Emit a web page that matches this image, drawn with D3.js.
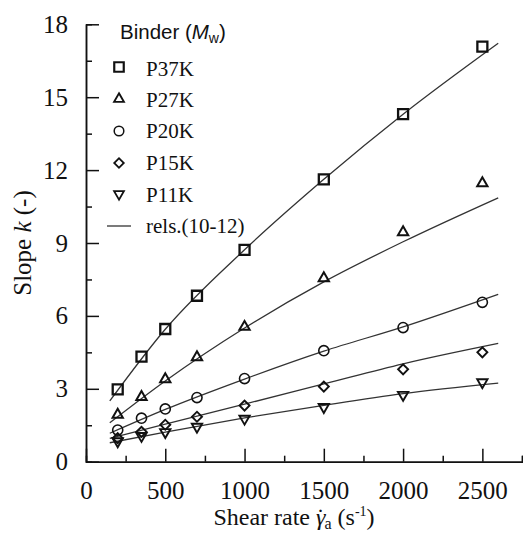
<!DOCTYPE html>
<html>
<head>
<meta charset="utf-8">
<script src="https://cdn.jsdelivr.net/npm/d3@7"></script>
<style>
  body { margin: 0; background: #fff; }
  text { fill: #111; }
</style>
</head>
<body>
<div id="chart"></div>
<script>
// ************ data ************
const shearRates = [200, 350, 500, 700, 1000, 1500, 2000, 2500]

const p37k = [2.98, 4.32, 5.46, 6.83, 8.72, 11.62, 14.3, 17.08]
const p27k = [1.93, 2.66, 3.39, 4.3, 5.55, 7.55, 9.44, 11.46]
const p20k = [1.3, 1.79, 2.17, 2.64, 3.42, 4.57, 5.52, 6.56]
const p15k = [0.97, 1.23, 1.52, 1.85, 2.31, 3.09, 3.8, 4.5]
const p11k = [0.84, 1.06, 1.22, 1.44, 1.77, 2.25, 2.75, 3.27]

// fitted relations, rels.(10-12), sampled from the drawn curves
const fitRates = [150, 500, 1000, 1500, 2000, 2600]
const fit37k = [2.5, 5.45, 8.72, 11.62, 14.3, 17.22]
const fit27k = [1.6, 3.32, 5.5, 7.4, 9.05, 10.86]
const fit20k = [1.17, 2.15, 3.4, 4.55, 5.55, 6.89]
const fit15k = [0.96, 1.55, 2.37, 3.2, 4.03, 4.87]
const fit11k = [0.78, 1.22, 1.8, 2.32, 2.8, 3.23]

const binders = ["P37K", "P27K", "P20K", "P15K", "P11K"]
const xTicks = [0, 500, 1000, 1500, 2000, 2500]
const yTicks = [0, 3, 6, 9, 12, 15, 18]

// ************ layout ************
const W = 523, H = 534
const plotLeft = 86, plotRight = 522, plotTop = 24.3, plotBottom = 461.7
const serif = "'Liberation Serif', 'Times New Roman', serif"

const x = d3.scaleLinear().domain([0, 2750]).range([plotLeft, plotRight])
const y = d3.scaleLinear().domain([0, 18]).range([plotBottom, plotTop])

const svg = d3.select("#chart")
  .append("svg")
  .attr("width", W)
  .attr("height", H)

// marker shapes, one per binder
const markers = {
  P37K: { path: d3.symbol(d3.symbolSquare, 100)(), rot: 0, sw: 2.3 },
  P27K: { path: d3.symbol(d3.symbolTriangle, 46)(), rot: 0, sw: 2 },
  P20K: { path: d3.symbol(d3.symbolCircle, 80)(), rot: 0, sw: 1.6 },
  P15K: { path: d3.symbol(d3.symbolSquare, 50)(), rot: 45, sw: 1.9 },
  P11K: { path: d3.symbol(d3.symbolTriangle, 46)(), rot: 180, sw: 1.9 }
}

const series = [
  { name: "P37K", vals: p37k, fit: fit37k },
  { name: "P27K", vals: p27k, fit: fit27k },
  { name: "P20K", vals: p20k, fit: fit20k },
  { name: "P15K", vals: p15k, fit: fit15k },
  { name: "P11K", vals: p11k, fit: fit11k }
]

// ************ axes ************
const yAxis = d3.axisLeft(y).tickValues(yTicks).tickSizeInner(-13).tickSizeOuter(0).tickPadding(18)
const yMinor = d3.axisLeft(y).tickValues(d3.range(1.5, 18, 3)).tickSize(-6).tickFormat("")
const xAxis = d3.axisBottom(x).tickValues(xTicks).tickFormat(d3.format("d"))
  .tickSizeInner(-13).tickSizeOuter(0).tickPadding(20)
const xMinor = d3.axisBottom(x).tickValues(d3.range(250, 2751, 500)).tickSize(-6).tickFormat("")

function styleAxis(g) {
  g.selectAll("path, line").attr("stroke", "#111").attr("stroke-width", 1.5)
  g.selectAll("text")
    .style("font-family", serif)
    .style("font-size", "25px")
    .attr("fill", "#111")
}

svg.append("g").attr("transform", "translate(" + plotLeft + ",0)").call(yMinor).call(styleAxis)
svg.append("g").attr("transform", "translate(0," + plotBottom + ")").call(xMinor).call(styleAxis)
svg.append("g").attr("transform", "translate(" + plotLeft + ",0)").call(yAxis).call(styleAxis)
svg.append("g").attr("transform", "translate(0," + plotBottom + ")").call(xAxis).call(styleAxis)

// ************ fitted curves ************
const line = d3.line()
  .x(function(d) { return x(d[0]) })
  .y(function(d) { return y(d[1]) })
  .curve(d3.curveMonotoneX)

series.forEach(function(s) {
  svg.append("path")
    .datum(fitRates.map(function(r, i) { return [r, s.fit[i]] }))
    .attr("d", line)
    .attr("fill", "none")
    .attr("stroke", "#333")
    .attr("stroke-width", 1.3)
})

// ************ data markers ************
series.forEach(function(s) {
  const m = markers[s.name]
  svg.selectAll(".pt-" + s.name)
    .data(shearRates.map(function(r, i) { return [r, s.vals[i]] }))
    .enter()
    .append("path")
    .attr("class", "pt-" + s.name)
    .attr("d", m.path)
    .attr("transform", function(d) {
      return "translate(" + x(d[0]) + "," + y(d[1]) + ") rotate(" + m.rot + ")"
    })
    .attr("fill", "none")
    .attr("stroke", "#111")
    .attr("stroke-width", m.sw)
})

// ************ legend ************
const legend = svg.append("g")

const title = legend.append("text")
  .attr("x", 120)
  .attr("y", 39)
  .style("font-family", "'Liberation Sans', Arial, sans-serif")
  .style("font-size", "20.5px")
title.append("tspan").text("Binder (")
title.append("tspan").style("font-style", "italic").text("M")
title.append("tspan").attr("dy", 4).style("font-size", "14px").text("w")
title.append("tspan").attr("dy", -4).text(")")

const rowY = [67, 99, 131, 163, 194, 226]
const textY = [76, 107, 138, 170, 202, 233]

binders.forEach(function(b, i) {
  const m = markers[b]
  legend.append("path")
    .attr("d", m.path)
    .attr("transform", "translate(119," + rowY[i] + ") rotate(" + m.rot + ") scale(0.95)")
    .attr("fill", "none")
    .attr("stroke", "#111")
    .attr("stroke-width", m.sw)
  legend.append("text")
    .attr("x", 146)
    .attr("y", textY[i])
    .style("font-family", serif)
    .style("font-size", "21px")
    .text(b)
})

legend.append("line")
  .attr("x1", 107).attr("x2", 131)
  .attr("y1", rowY[5]).attr("y2", rowY[5])
  .attr("stroke", "#333")
  .attr("stroke-width", 1.3)
legend.append("text")
  .attr("x", 146)
  .attr("y", textY[5])
  .style("font-family", serif)
  .style("font-size", "21px")
  .text("rels.(10-12)")

// ************ axis titles ************
const yLabel = svg.append("text")
  .attr("transform", "translate(31,243) rotate(-90)")
  .attr("text-anchor", "middle")
  .style("font-family", serif)
  .style("font-size", "25px")
yLabel.append("tspan").text("Slope ")
yLabel.append("tspan").style("font-style", "italic").text("k")
yLabel.append("tspan").text(" (-)")

// gamma with a dot above, subscript a, then (s^-1)
const xLabel = svg.append("text")
  .attr("x", 294)
  .attr("y", 525)
  .attr("text-anchor", "middle")
  .style("font-family", serif)
  .style("font-size", "24px")
xLabel.append("tspan").text("Shear rate ")
xLabel.append("tspan").style("font-style", "italic").text("\u03B3")
xLabel.append("tspan").attr("dx", -9).text("\u02D9")
xLabel.append("tspan").attr("dx", 0).attr("dy", 4).style("font-size", "16px").text("a")
xLabel.append("tspan").attr("dy", -4).text(" (s")
xLabel.append("tspan").attr("dy", -9).style("font-size", "14px").text("-1")
xLabel.append("tspan").attr("dy", 9).text(")")
</script>
</body>
</html>
